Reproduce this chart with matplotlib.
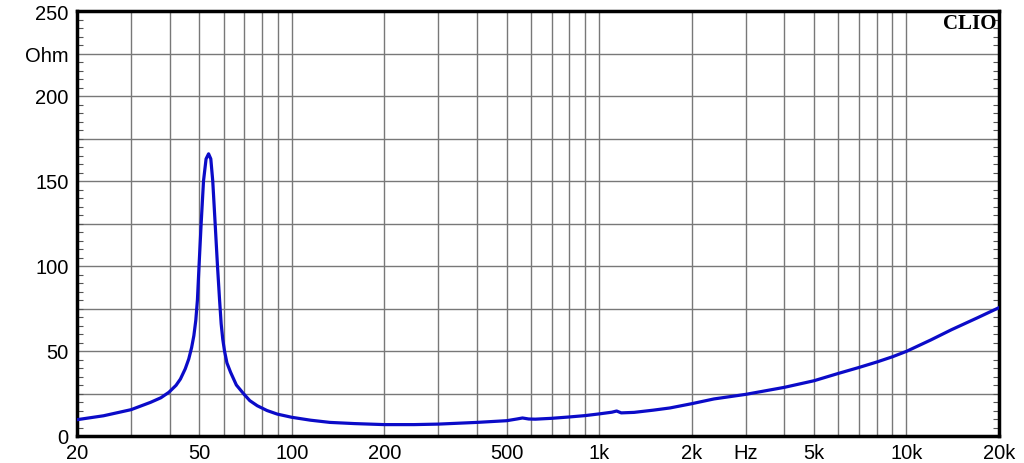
import numpy as np
import matplotlib.pyplot as plt
from matplotlib.ticker import FixedLocator, NullFormatter

# impedance curve
freq = [20, 24.4, 30, 34.7, 37.5, 39.8, 42, 43.4, 45, 46.2, 47.2, 48.0,
        48.7, 49.3, 49.9, 50.7, 51.6, 52.6, 53.6, 54.5, 55.3, 56.3, 57.3,
        58.2, 58.9, 59.6, 60.4, 61.5, 63.2, 66, 69.8, 73, 77.2, 83, 89.6,
        100, 115, 133, 160, 200, 250, 300, 400, 500, 540, 563, 590, 620, 700,
        800, 900, 1000, 1100, 1140, 1180, 1300, 1500, 1700, 2000, 2364, 3000,
        4000, 5000, 6000, 7000, 8000, 9000, 10000, 12000, 14000, 17000, 20000]
ohm = [9.6, 11.9, 15.5, 19.8, 22.5, 25.7, 29.8, 33.5, 39.5, 45.3, 52.0, 59.0,
       68.0, 80.0, 100.0, 125.0, 150.0, 163.0, 166.0, 163.0, 150.0, 125.0,
       100.0, 80.0, 66.0, 57.0, 50.0, 43.0, 37.5, 30.0, 24.7, 20.8, 17.8,
       15.0, 12.9, 11.0, 9.3, 8.0, 7.3, 6.7, 6.7, 7.0, 8.0, 9.0, 10.0, 10.6,
       10.0, 9.9, 10.4, 11.2, 12.0, 13.0, 14.0, 14.7, 13.6, 13.9, 15.2, 16.5,
       19.0, 21.8, 24.5, 28.6, 32.5, 36.8, 40.3, 43.5, 46.6, 49.8, 56.5,
       62.5, 69.5, 75.5]

x_grid = [30, 40, 50, 60, 70, 80, 90, 100, 200, 300, 400, 500, 600, 700, 800,
          900, 1000, 2000, 3000, 4000, 5000, 6000, 7000, 8000, 9000, 10000]
x_labels = {20: '20', 50: '50', 100: '100', 200: '200', 500: '500', 1000: '1k',
            2000: '2k', 3000: 'Hz', 5000: '5k', 10000: '10k', 20000: '20k'}
y_labels = {0: '0', 50: '50', 100: '100', 150: '150', 200: '200', 225: 'Ohm', 250: '250'}

plt.rcParams['font.family'] = ['Liberation Sans', 'DejaVu Sans']

fig = plt.figure(figsize=(10.24, 4.64), dpi=100)
ax = fig.add_axes([77/1024, 1-437/464, 922/1024, 425/464])

ax.set_xscale('log')
ax.set_xlim(20, 20000)
ax.set_ylim(0, 250)

for f in x_grid:
    ax.axvline(f, color='#787878', lw=1.0, zorder=1)
for v in range(25, 250, 25):
    ax.axhline(v, color='#787878', lw=1.0, zorder=1)

ax.plot(freq, ohm, color='#0b0bc8', lw=2.3, zorder=3,
        solid_capstyle='round', solid_joinstyle='round')

ax.xaxis.set_major_locator(FixedLocator(list(x_labels.keys())))
ax.set_xticklabels(list(x_labels.values()))
ax.xaxis.set_minor_locator(FixedLocator([]))
ax.xaxis.set_minor_formatter(NullFormatter())
ax.tick_params(axis='x', which='both', length=0, labelsize=14.5, pad=5)

ax.yaxis.set_major_locator(FixedLocator(list(y_labels.keys())))
ax.set_yticklabels(list(y_labels.values()))
ax.yaxis.set_minor_locator(FixedLocator(list(range(0, 251, 5))))
ax.tick_params(axis='y', which='major', length=0, labelsize=14.5, pad=6)
ax.tick_params(axis='y', which='minor', direction='in', length=4, width=0.8,
               left=True, right=True, color='#555555')

for s in ax.spines.values():
    s.set_linewidth(2.5)
    s.set_color('black')

ax.text(0.997, 0.996, 'CLIO', transform=ax.transAxes, ha='right', va='top',
        family='Liberation Serif', fontweight='bold', fontsize=15, zorder=4)

plt.savefig('out.png', dpi=100)
